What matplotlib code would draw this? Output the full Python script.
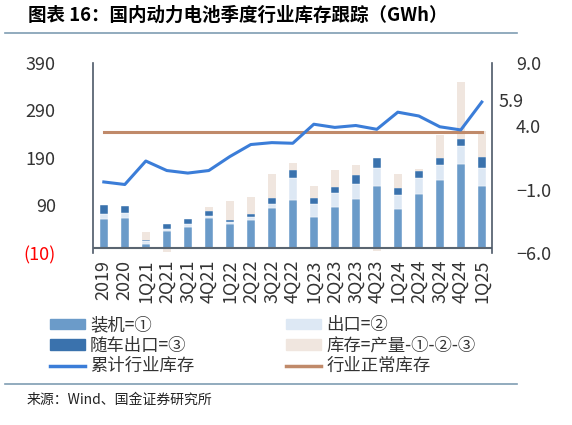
import matplotlib
matplotlib.use("Agg")
import matplotlib.pyplot as plt
from matplotlib.patches import Patch
from matplotlib.lines import Line2D
import numpy as np

plt.rcParams['font.family'] = ['Noto Sans CJK SC', 'DejaVu Sans']
plt.rcParams['axes.unicode_minus'] = True

# ---------- 数据 ----------
quarters = ["2019", "2020", "1Q21", "2Q21", "3Q21", "4Q21",
            "1Q22", "2Q22", "3Q22", "4Q22", "1Q23", "2Q23", "3Q23", "4Q23",
            "1Q24", "2Q24", "3Q24", "4Q24", "1Q25"]
installed = [61, 63, 8, 37, 45, 63, 50, 59, 84, 101, 66, 86, 103, 131, 83, 115, 144, 178, 130]
export = [10, 12, 7, 4, 6, 5, 6, 6, 10, 47, 27, 31, 33, 38, 29, 33, 31, 37, 38]
vehicle_export = [20, 13, 2, 9, 10, 11, 4, 7, 11, 17, 13, 11, 18, 21, 15, 15, 15, 15, 23]
inventory = [0, 0, 17, -8, 0, 7, 40, 35, 52, 14, 24, 36, 22, -5, 29, 3, 49, 119, 56]
cum_inventory = [-0.4, -0.6, 1.25, 0.5, 0.3, 0.5, 1.6, 2.55, 2.7, 2.65,
                 4.15, 3.9, 4.05, 3.75, 5.1, 4.8, 3.95, 3.7, 5.9]
normal_inventory = 3.5

C_INST = "#6b9bc9"
C_EXP = "#dde8f4"
C_VEH = "#3a72ad"
C_INV = "#f0e6df"
C_CUM = "#3b7dd8"
C_NORM = "#c08a6a"
C_RULE = "#7f9db3"
C_TXT = "#333333"

fig = plt.figure(figsize=(5.72, 4.25), dpi=100)
ax = fig.add_axes([93.3 / 572, 1 - 253 / 425, 399 / 572, 190.3 / 425])

x = np.arange(len(quarters))
w = 0.4
inst = np.array(installed, float)
exp_ = np.array(export, float)
veh = np.array(vehicle_export, float)
inv = np.array(inventory, float)

ax.bar(x, inst, w, color=C_INST, edgecolor="white", linewidth=0.3)
ax.bar(x, exp_, w, bottom=inst, color=C_EXP, edgecolor="white", linewidth=0.3)
ax.bar(x, veh, w, bottom=inst + exp_, color=C_VEH, edgecolor="white", linewidth=0.3)
# 负库存从0向下画
inv_bottom = np.where(inv >= 0, inst + exp_ + veh, 0)
ax.bar(x, inv, w, bottom=inv_bottom, color=C_INV, linewidth=0)

ax.set_xlim(-0.5, len(quarters) - 0.5)
ax.set_ylim(-10, 390)
ax.set_yticks([-10, 90, 190, 290, 390])
ax.set_yticklabels(["(10)", "90", "190", "290", "390"], fontsize=13, color=C_TXT)
ax.get_yticklabels()[0].set_color("red")
ax.tick_params(axis="y", length=0, pad=27)

ax.set_xticks(x)
ax.set_xticklabels(quarters, rotation=90, fontsize=13, color=C_TXT)
ax.tick_params(axis="x", length=0, pad=5)

for s in ["top", "right", "bottom"]:
    ax.spines[s].set_visible(False)
ax.spines["left"].set_color("#4d5968")
ax.spines["left"].set_linewidth(1.2)
ax.axhline(0, color="#5a6570", lw=1.5, zorder=3)

# 右轴：累计行业库存
ax2 = ax.twinx()
ax2.plot(x, cum_inventory, color=C_CUM, lw=2.2, zorder=4)
ax2.plot(x, [normal_inventory] * len(x), color=C_NORM, lw=2.2, zorder=3)
ax2.set_ylim(-6, 9)
ax2.set_yticks([-6, -1, 4, 9])
ax2.set_yticklabels(["\u22126.0", "\u22121.0", "4.0", "9.0"], fontsize=13, color=C_TXT)
ax2.tick_params(axis="y", length=0, pad=17)
for s in ["top", "left", "bottom"]:
    ax2.spines[s].set_visible(False)
ax2.spines["right"].set_color("#4d5968")
ax2.spines["right"].set_linewidth(1.2)
ax2.annotate(f"{cum_inventory[-1]:.1f}", (x[-1], cum_inventory[-1]),
             xytext=(17, 0), textcoords="offset pixels",
             ha="left", va="center", fontsize=13, color=C_TXT,
             annotation_clip=False)

# 标题
fig.text(28 / 572, 1 - 15 / 425, "图表 16：国内动力电池季度行业库存跟踪（GWh）",
         fontsize=13.3, fontweight="bold", style="italic", ha="left", va="center")
fig.add_artist(Line2D([5 / 572, 517 / 572], [1 - 33 / 425, 1 - 33 / 425],
                      color=C_RULE, lw=1.2))

# 图例
handles = [
    Patch(color=C_INST, label="装机=①"),
    Patch(color=C_VEH, label="随车出口=③"),
    Line2D([], [], color=C_CUM, lw=2.5, label="累计行业库存"),
    Patch(color=C_EXP, label="出口=②"),
    Patch(color=C_INV, label="库存=产量-①-②-③"),
    Line2D([], [], color=C_NORM, lw=2.5, label="行业正常库存"),
]
leg = fig.legend(handles=handles, ncol=2, loc="upper left",
                 bbox_to_anchor=(50 / 572, 1 - 316 / 425), frameon=False,
                 fontsize=12.5, handlelength=2.0, handleheight=0.55,
                 handletextpad=0.3, labelspacing=0.15, columnspacing=5.3,
                 borderpad=0, borderaxespad=0)
for t in leg.get_texts():
    t.set_color(C_TXT)

fig.add_artist(Line2D([5 / 572, 517 / 572], [1 - 383.5 / 425, 1 - 383.5 / 425],
                      color=C_RULE, lw=1.2))
fig.text(27 / 572, 1 - 400 / 425, "来源：Wind、国金证券研究所",
         fontsize=10, ha="left", va="center", color="#222222")

fig.savefig("out.png", dpi=100)
